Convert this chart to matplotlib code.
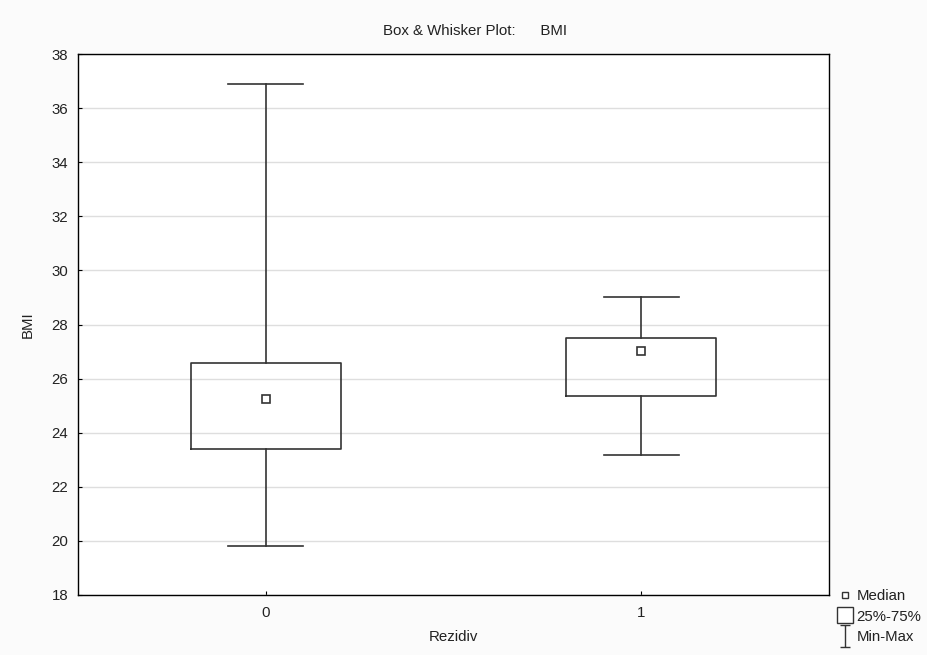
import matplotlib.pyplot as plt
from matplotlib.lines import Line2D
from matplotlib.path import Path

plt.rcParams['font.family'] = ['Liberation Sans', 'DejaVu Sans']
plt.rcParams['font.size'] = 10.8

# data
groups = ['0', '1']
mins = [19.80, 23.16]
q1 = [23.39, 25.37]
medians = [25.24, 27.03]
q3 = [26.58, 27.49]
maxs = [36.89, 29.02]

line_c = '#333333'

fig = plt.figure(figsize=(9.28, 6.55), dpi=100, facecolor='#fbfbfb')
ax = fig.add_axes([78 / 928, 60 / 655, 751 / 928, 541 / 655])
ax.set_facecolor('white')

stats = []
for i in range(len(groups)):
    stats.append({'med': medians[i], 'q1': q1[i], 'q3': q3[i],
                  'whislo': mins[i], 'whishi': maxs[i], 'fliers': [],
                  'label': groups[i]})

pos = list(range(len(groups)))
ax.bxp(stats, positions=pos, widths=0.4, showfliers=False,
       boxprops=dict(color=line_c, lw=1.2),
       whiskerprops=dict(color=line_c, lw=1.2),
       capprops=dict(color=line_c, lw=1.2),
       medianprops=dict(linestyle='none'), capwidths=0.2, zorder=3)
ax.plot(pos, medians, 's', ms=6, mfc='white', mec=line_c, mew=1.2, zorder=4)

ax.set_xlim(-0.5, 1.5)
ax.set_ylim(18, 38)
ax.set_yticks(range(18, 39, 2))
ax.set_xticks(pos)
ax.set_xticklabels(groups)
ax.grid(axis='y', color='#dedede', lw=1)
ax.set_axisbelow(True)
ax.tick_params(direction='in', length=3, color='black', labelcolor='#222222')
ax.tick_params(axis='y', pad=7)
ax.tick_params(axis='x', pad=8)
for s in ax.spines.values():
    s.set_color('black')
    s.set_linewidth(1)

ax.set_xlabel('Rezidiv', color='#222222', labelpad=7)
ax.set_ylabel('BMI', color='#222222', labelpad=12)
fig.text(475 / 928, 1 - 31 / 655, 'Box & Whisker Plot:      BMI',
         ha='center', va='center', color='#222222')

# legend outside bottom-right
imark = Path([(-0.45, 1), (0.45, 1), (0, 1), (0, -1), (-0.45, -1), (0.45, -1)],
             [Path.MOVETO, Path.LINETO, Path.MOVETO, Path.LINETO,
              Path.MOVETO, Path.LINETO])
handles = [
    Line2D([], [], marker='s', ms=4.5, mfc='white', mec=line_c, mew=1, ls='none'),
    Line2D([], [], marker='s', ms=12, mfc='white', mec=line_c, mew=1, ls='none'),
    Line2D([], [], marker=imark, ms=16, mec=line_c, mew=1, ls='none'),
]
fig.legend(handles, ['Median', '25%-75%', 'Min-Max'], loc='lower left',
           bbox_to_anchor=(826 / 928, -0.002), frameon=False, handlelength=1,
           handletextpad=0.25, labelspacing=0.45, borderpad=0.3,
           labelcolor='#222222')

fig.savefig('out.png', dpi=100, facecolor=fig.get_facecolor())
